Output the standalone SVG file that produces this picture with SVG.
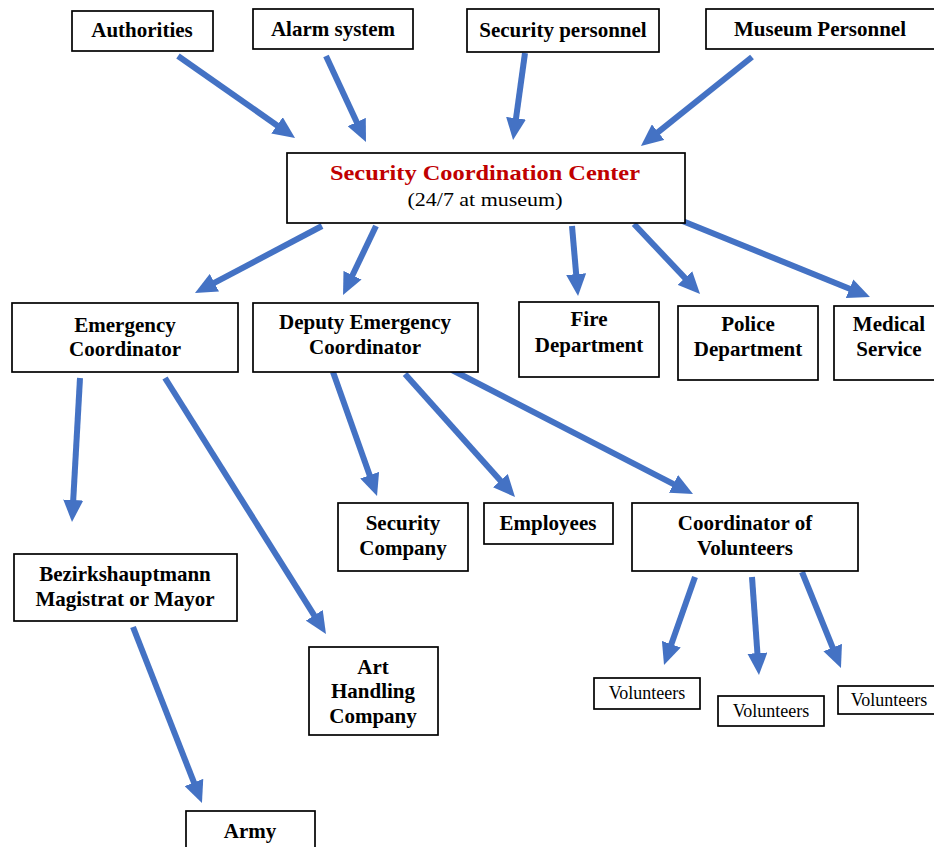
<svg xmlns="http://www.w3.org/2000/svg" width="934" height="847" viewBox="0 0 934 847">
<style>
.box{fill:#fff;stroke:#000;stroke-width:1.7}
.t{font-family:"Liberation Serif","Times New Roman",serif;font-weight:bold;font-size:21px;fill:#000;text-anchor:middle}
.s{font-family:"Liberation Serif","Times New Roman",serif;font-size:18px;fill:#000;text-anchor:middle}
.red{fill:#C00000}
.a{stroke:#4472C4;stroke-width:6;fill:none;marker-end:url(#ah)}
</style>
<defs>
<marker id="ah" markerUnits="userSpaceOnUse" markerWidth="22" markerHeight="20" refX="4" refY="10" orient="auto" viewBox="0 0 22 20">
<path d="M0,0 L22,10 L0,20 z" fill="#4472C4"/>
</marker>
</defs>
<rect width="934" height="847" fill="#fff"/>
<g id="connectors">
<line class="a" x1="178" y1="56" x2="280.3" y2="127.7"/>
<line class="a" x1="326" y1="56" x2="358.4" y2="125.7"/>
<line class="a" x1="525" y1="53" x2="515.5" y2="122.2"/>
<line class="a" x1="752" y1="57" x2="655" y2="134.7"/>
<line class="a" x1="322" y1="226" x2="210.9" y2="284.6"/>
<line class="a" x1="376" y1="226" x2="350.8" y2="278.8"/>
<line class="a" x1="572" y1="226" x2="576.5" y2="278.1"/>
<line class="a" x1="634" y1="224" x2="687.7" y2="280.9"/>
<line class="a" x1="680" y1="220" x2="853.3" y2="290.2"/>
<line class="a" x1="80" y1="378" x2="73" y2="504"/>
<line class="a" x1="165" y1="378" x2="316.4" y2="618.8"/>
<line class="a" x1="333" y1="372" x2="371" y2="479"/>
<line class="a" x1="405" y1="374" x2="503" y2="483.6"/>
<line class="a" x1="452" y1="370" x2="677" y2="485.8"/>
<line class="a" x1="133" y1="627" x2="195.4" y2="786.2"/>
<line class="a" x1="695" y1="577" x2="670" y2="648"/>
<line class="a" x1="752" y1="577" x2="757.7" y2="657.1"/>
<line class="a" x1="802" y1="572" x2="834.2" y2="651.3"/>
</g>
<g id="authorities"><rect class="box" x="72" y="11" width="141" height="40"/><text class="t" x="142" y="37">Authorities</text></g>
<g id="alarm"><rect class="box" x="253" y="9" width="160" height="40"/><text class="t" x="333" y="36">Alarm system</text></g>
<g id="secpers"><rect class="box" x="467" y="9" width="192" height="43"/><text class="t" x="563" y="37">Security personnel</text></g>
<g id="muspers"><rect class="box" x="706" y="9" width="240" height="40"/><text class="t" x="820" y="36">Museum Personnel</text></g>
<g id="scc"><rect class="box" x="287" y="153" width="398" height="70"/><text class="t red" x="485" y="180" font-size="22" textLength="310" lengthAdjust="spacingAndGlyphs">Security Coordination Center</text><text class="s" x="485" y="206" font-size="19" textLength="155" lengthAdjust="spacingAndGlyphs">(24/7 at museum)</text></g>
<g id="emcoord"><rect class="box" x="12" y="303" width="226" height="69"/><text class="t" x="125" y="332">Emergency</text><text class="t" x="125" y="356">Coordinator</text></g>
<g id="deputy"><rect class="box" x="253" y="303" width="225" height="69"/><text class="t" x="365" y="329">Deputy Emergency</text><text class="t" x="365" y="354">Coordinator</text></g>
<g id="fire"><rect class="box" x="519" y="302" width="140" height="75"/><text class="t" x="589" y="326">Fire</text><text class="t" x="589" y="352">Department</text></g>
<g id="police"><rect class="box" x="678" y="306" width="140" height="74"/><text class="t" x="748" y="331">Police</text><text class="t" x="748" y="356">Department</text></g>
<g id="medical"><rect class="box" x="834" y="306" width="110" height="74"/><text class="t" x="889" y="331">Medical</text><text class="t" x="889" y="356">Service</text></g>
<g id="seccomp"><rect class="box" x="338" y="503" width="130" height="68"/><text class="t" x="403" y="530">Security</text><text class="t" x="403" y="555">Company</text></g>
<g id="employees"><rect class="box" x="484" y="503" width="129" height="41"/><text class="t" x="548" y="530">Employees</text></g>
<g id="coordvol"><rect class="box" x="632" y="503" width="226" height="68"/><text class="t" x="745" y="530">Coordinator of</text><text class="t" x="745" y="555">Volunteers</text></g>
<g id="bezirk"><rect class="box" x="14" y="554" width="223" height="67"/><text class="t" x="125" y="581">Bezirkshauptmann</text><text class="t" x="125" y="606">Magistrat or Mayor</text></g>
<g id="arthandling"><rect class="box" x="309" y="647" width="129" height="88"/><text class="t" x="373" y="674">Art</text><text class="t" x="373" y="698">Handling</text><text class="t" x="373" y="723">Company</text></g>
<g id="army"><rect class="box" x="186" y="811" width="129" height="50"/><text class="t" x="250" y="838">Army</text></g>
<g id="vol1"><rect class="box" x="594" y="678" width="106" height="31"/><text class="s" x="647" y="699">Volunteers</text></g>
<g id="vol2"><rect class="box" x="718" y="696" width="106" height="30"/><text class="s" x="771" y="717">Volunteers</text></g>
<g id="vol3"><rect class="box" x="838" y="686" width="106" height="28"/><text class="s" x="889" y="706">Volunteers</text></g>
</svg>
